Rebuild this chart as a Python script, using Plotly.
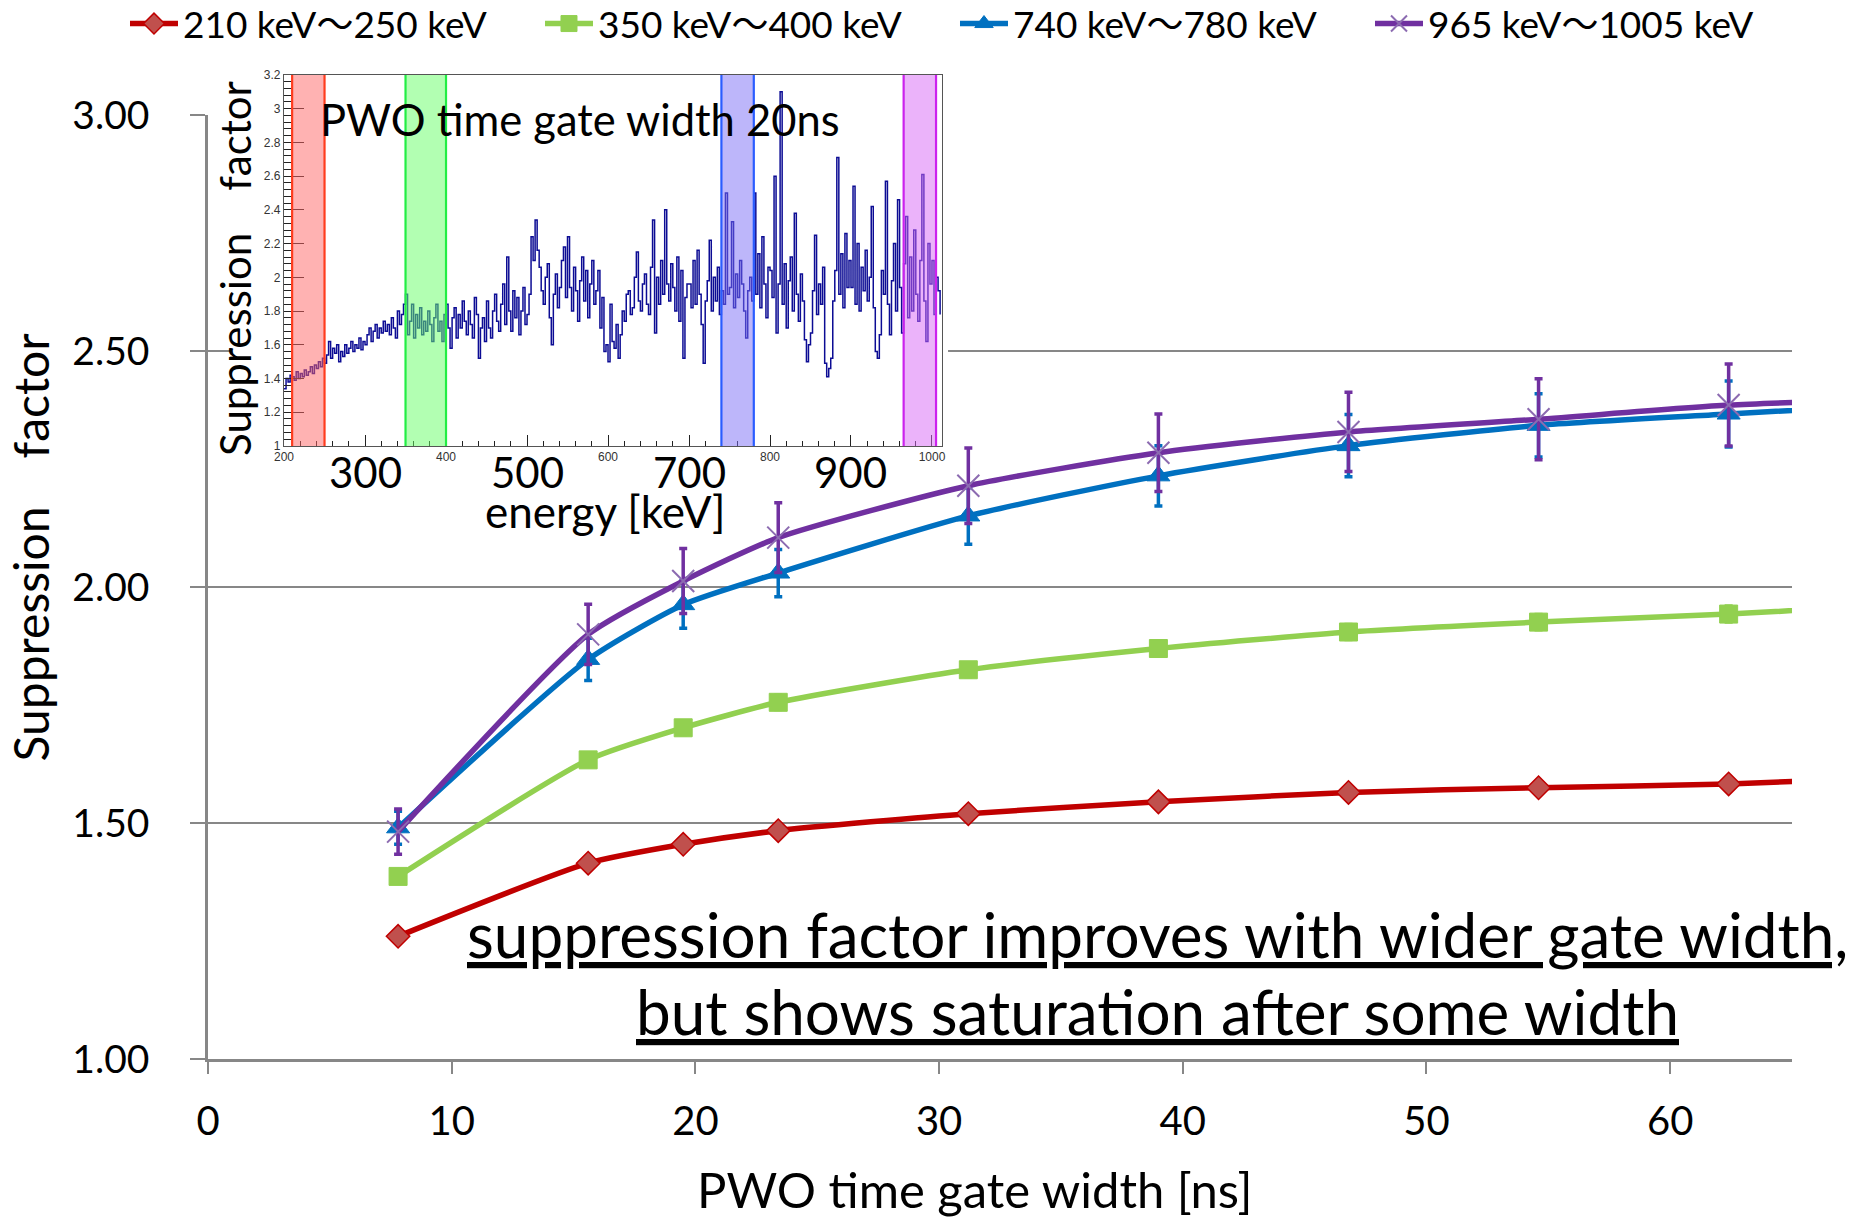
import plotly.graph_objects as go

# ---------------- main chart data ----------------
gate_ns = [7.8, 15.6, 19.5, 23.4, 31.2, 39.0, 46.8, 54.6, 62.4, 70.2]

sf_210_250 = [1.260, 1.415, 1.455, 1.484, 1.520, 1.545, 1.565, 1.575, 1.583, 1.598]
err_210_250 = [0.010, 0.010, 0.011, 0.011, 0.012, 0.012, 0.012, 0.012, 0.012, 0.012]

sf_350_400 = [1.387, 1.634, 1.702, 1.756, 1.825, 1.870, 1.905, 1.926, 1.943, 1.965]
err_350_400 = [0.012, 0.013, 0.014, 0.015, 0.015, 0.016, 0.016, 0.016, 0.017, 0.017]

sf_740_780 = [1.490, 1.847, 1.963, 2.030, 2.151, 2.236, 2.300, 2.343, 2.367, 2.390]
err_740_780 = [0.035, 0.045, 0.050, 0.050, 0.060, 0.064, 0.066, 0.067, 0.070, 0.070]

sf_965_1005 = [1.482, 1.900, 2.013, 2.105, 2.215, 2.285, 2.329, 2.356, 2.386, 2.400]
err_965_1005 = [0.048, 0.064, 0.069, 0.074, 0.080, 0.082, 0.084, 0.086, 0.087, 0.088]

series_names = ["210 keV～250 keV", "350 keV～400 keV", "740 keV～780 keV", "965 keV～1005 keV"]
x_ticks = [0, 10, 20, 30, 40, 50, 60]
y_ticks = [1.0, 1.5, 2.0, 2.5, 3.0]

# ---------------- inset data (PWO gate 20 ns, 2.5 keV bins from 200 keV) ----------------
inset_sf = [
    1.34, 1.40, 1.38, 1.42, 1.41, 1.39, 1.44, 1.40, 1.43, 1.41,
    1.45, 1.42, 1.44, 1.47, 1.43, 1.48, 1.46, 1.50, 1.47, 1.52,
    1.49, 1.54, 1.62, 1.52, 1.58, 1.55, 1.60, 1.50, 1.56, 1.53,
    1.60, 1.55, 1.58, 1.62, 1.56, 1.60, 1.58, 1.64, 1.57, 1.62,
    1.60, 1.66, 1.70, 1.62, 1.68, 1.72, 1.64, 1.70, 1.67, 1.74,
    1.68, 1.72, 1.66, 1.76, 1.70, 1.64, 1.80, 1.72, 1.78, 1.84,
    1.90, 1.66, 1.74, 1.84, 1.64, 1.78, 1.70, 1.82, 1.66, 1.74,
    1.68, 1.80, 1.72, 1.62, 1.76, 1.84, 1.68, 1.74, 1.62, 1.78,
    1.84, 1.70, 1.58, 1.76, 1.82, 1.64, 1.78, 1.70, 1.86, 1.74,
    1.66, 1.80, 1.72, 1.64, 1.88, 1.78, 1.52, 1.70, 1.76, 1.62,
    1.86, 1.70, 1.64, 1.80, 1.90, 1.74, 1.68, 1.84, 1.96, 1.72,
    2.12, 1.80, 1.68, 1.92, 1.76, 1.88, 1.66, 1.80, 1.94, 1.72,
    1.78, 1.90, 2.24, 2.10, 2.34, 2.16, 2.06, 1.92, 1.84, 2.00,
    2.08, 1.76, 1.60, 1.90, 2.02, 1.82, 1.94, 2.10, 2.18, 1.88,
    2.24, 1.94, 1.80, 2.06, 1.92, 1.74, 1.98, 2.12, 1.86, 2.04,
    1.76, 1.96, 2.10, 1.84, 1.92, 2.04, 1.70, 1.88, 1.56, 1.60,
    1.50, 1.84, 1.62, 1.58, 1.72, 1.52, 1.66, 1.80, 1.74, 1.90,
    1.92, 1.78, 1.82, 2.00, 2.15, 1.86, 1.80, 1.96, 2.02, 1.84,
    1.78, 2.06, 2.34, 1.67, 2.00, 1.84, 2.10, 1.90, 2.40, 1.96,
    1.86, 2.08, 1.94, 1.80, 2.12, 1.74, 2.04, 1.52, 1.88, 1.96,
    1.96, 1.82, 2.10, 1.84, 2.16, 1.90, 1.72, 1.49, 1.86, 1.98,
    2.22, 1.80, 2.00, 1.86, 2.06, 1.78, 1.92, 1.84, 2.50, 1.90,
    1.94, 2.33, 1.82, 2.02, 1.88, 2.10, 1.96, 1.80, 1.64, 1.92,
    2.00, 1.86, 2.50, 1.90, 2.14, 1.82, 2.24, 1.96, 1.76, 2.06,
    2.04, 1.88, 2.60, 1.67, 1.96, 3.10, 1.84, 2.08, 1.70, 1.98,
    2.12, 1.80, 2.38, 1.90, 1.74, 2.02, 1.86, 1.63, 1.50, 1.60,
    1.67, 1.92, 2.25, 1.78, 1.96, 1.84, 2.06, 1.49, 1.41, 1.46,
    1.52, 1.86, 2.04, 2.71, 1.90, 2.14, 1.82, 2.26, 1.94, 2.10,
    1.94, 2.54, 1.84, 2.20, 1.80, 2.06, 1.92, 2.16, 1.86, 2.00,
    2.42, 1.82, 1.56, 1.52, 1.66, 2.04, 1.90, 2.57, 1.84, 1.66,
    1.98, 2.20, 1.80, 2.46, 1.94, 1.67, 2.08, 2.36, 1.76, 2.12,
    1.80, 2.28, 1.90, 1.74, 2.10, 2.61, 1.86, 1.62, 2.20, 1.96,
    2.10, 1.78, 2.00, 1.92, 1.78,
]
inset_energy_keV = [200 + 2.5 * i for i in range(len(inset_sf))]
gate_bands = [(210, 250), (350, 400), (740, 780), (965, 1005)]
inset_big_ticks = [300, 500, 700, 900]

# ---------------- styles ----------------
FONT = "Lato, 'Noto Sans CJK JP', sans-serif"
GRID = "#878787"
line_cols = ["#c00000", "#92d050", "#0070c0", "#7030a0"]
band_fill = ["rgba(255,102,102,0.5)", "rgba(102,255,102,0.5)",
             "rgba(124,110,246,0.5)", "rgba(216,104,246,0.5)"]
band_edge = ["#ff3c1e", "#22ee44", "#2a5cff", "#cc22ee"]

fig = go.Figure()

# white backdrop of the pasted inset picture (own subplot, hides gridlines)
fig.add_trace(go.Scatter(x=[], y=[], xaxis="x2", yaxis="y2",
                         showlegend=False, hoverinfo="skip"))

# inset histogram
fig.add_trace(go.Scatter(
    x=inset_energy_keV, y=inset_sf, xaxis="x3", yaxis="y3", mode="lines",
    line=dict(color="#0c0c94", width=1.5, shape="hv"),
    showlegend=False, hoverinfo="skip"))

markers = [
    dict(symbol="diamond", size=18, color="#c0504d", line=dict(color="#c00000", width=1.5)),
    dict(symbol="square", size=18, color="#92d050", line=dict(color="#92d050", width=1)),
    dict(symbol="triangle-up", size=20, color="#0070c0", line=dict(color="#0070c0", width=1)),
    dict(symbol="x-thin", size=22, color="#8c6bb1", line=dict(color="#8c6bb1", width=2)),
]
vals = [sf_210_250, sf_350_400, sf_740_780, sf_965_1005]
errs = [err_210_250, err_350_400, err_740_780, err_965_1005]
for name, v, e, col, mk in zip(series_names, vals, errs, line_cols, markers):
    fig.add_trace(go.Scatter(
        x=gate_ns, y=v, name=name, mode="lines+markers",
        line=dict(color=col, width=5.5, shape="spline", smoothing=0.6),
        marker=mk,
        error_y=dict(type="data", array=e, color=col, thickness=3.5, width=4),
    ))

shapes = []
for (lo, hi), fc, ec in zip(gate_bands, band_fill, band_edge):
    shapes.append(dict(type="rect", xref="x3", yref="y3 domain", x0=lo, x1=hi, y0=0, y1=1,
                       fillcolor=fc, line=dict(width=0), layer="above"))
    for xv in (lo, hi):
        shapes.append(dict(type="line", xref="x3", yref="y3 domain", x0=xv, x1=xv, y0=0, y1=1,
                           line=dict(color=ec, width=2.2), layer="above"))


def ann(text, x, y, size, xref="paper", yref="paper", angle=0, xanchor="center"):
    return dict(text=text, xref=xref, yref=yref, x=x, y=y, textangle=angle,
                xanchor=xanchor, yanchor="middle", showarrow=False,
                font=dict(size=size, color="black"))


annotations = [
    ann("Suppression　factor", -0.1120, 0.5105, 48, angle=-90),
    ann("PWO time gate width [ns]", 0.4842, -0.1296, 49),
    ann("Suppression　factor", 0.0170, 0.7886, 42, angle=-90),
    ann("PWO time gate width 20ns", 0.0694, 0.9372, 43.5, xanchor="left"),
    ann("energy [keV]", 0.2509, 0.5464, 44),
    ann("<u>suppression factor improves with wider gate width,</u>", 0.5997, 0.1246, 62),
    ann("<u>but shows saturation after some width</u>", 0.5997, 0.0479, 62),
]
for t in inset_big_ticks:
    annotations.append(ann(str(t), t, 0.5852, 42, xref="x3"))

fig.update_layout(
    width=1865, height=1223,
    margin=dict(l=208, r=73, t=56, b=164, autoexpand=False),
    paper_bgcolor="white", plot_bgcolor="white",
    font=dict(family=FONT, color="black"),
    showlegend=True,
    legend=dict(orientation="h", x=-0.0524, xanchor="left", y=1.001, yanchor="bottom",
                font=dict(size=37, color="black"), itemwidth=48,
                entrywidth=352, entrywidthmode="pixels",
                bgcolor="rgba(0,0,0,0)", traceorder="normal"),
    xaxis=dict(domain=[0, 1], anchor="y", range=[0, 65], tickvals=x_ticks,
               ticks="outside", ticklen=12, tickwidth=2, tickcolor=GRID,
               showline=True, linecolor=GRID, linewidth=2.5, showgrid=False, zeroline=False,
               tickfont=dict(size=40), ticklabelstandoff=13, automargin=False),
    yaxis=dict(domain=[0, 0.9408], anchor="x", range=[1, 3], tickvals=y_ticks, tickformat=".2f",
               ticks="outside", ticklen=15, tickwidth=2, tickcolor=GRID,
               showline=True, linecolor=GRID, linewidth=2.5,
               showgrid=True, gridcolor=GRID, gridwidth=1.6, zeroline=False,
               tickfont=dict(size=39), ticklabelstandoff=33, automargin=False),
    xaxis2=dict(domain=[0.0152, 0.4672], anchor="y2", range=[0, 1], visible=False, fixedrange=True),
    yaxis2=dict(domain=[0.5872, 0.9940], anchor="x2", range=[0, 1], visible=False, fixedrange=True),
    xaxis3=dict(domain=[0.0480, 0.4632], anchor="y3", range=[200, 1012],
                tickvals=[200, 300, 400, 500, 600, 700, 800, 900, 1000],
                ticktext=["200", "", "400", "", "600", "", "800", "", "1000"],
                ticks="inside", ticklen=11, tickwidth=1, tickcolor="#222",
                minor=dict(dtick=20, ticks="inside", ticklen=5, tickcolor="#222"),
                showline=True, mirror=True, linecolor="#555", linewidth=1.2,
                showgrid=False, zeroline=False, automargin=False,
                tickfont=dict(family="Liberation Sans", size=12, color="#333")),
    yaxis3=dict(domain=[0.6112, 0.9811], anchor="x3", range=[1, 3.2], dtick=0.2, tick0=1,
                ticks="inside", ticklen=20, tickwidth=1, tickcolor="#222",
                minor=dict(dtick=0.04, ticks="inside", ticklen=9, tickcolor="#222"),
                showline=True, mirror=True, linecolor="#555", linewidth=1.2,
                showgrid=False, zeroline=False, automargin=False,
                tickfont=dict(family="Liberation Sans", size=12, color="#333")),
    shapes=shapes,
    annotations=annotations,
)

fig.write_html("out.html")
